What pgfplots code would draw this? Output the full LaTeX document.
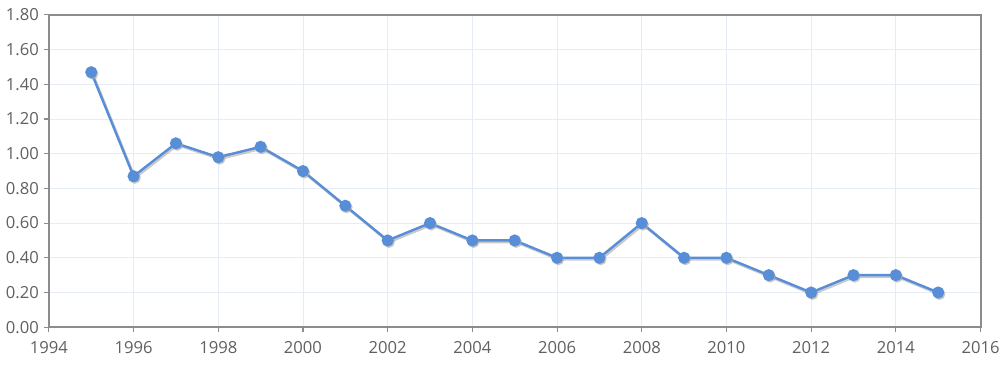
\documentclass[border=0pt]{standalone}
\usepackage{pgfplots}
\pgfplotsset{compat=1.18}
\usepackage{fontspec}
\setmainfont{Open Sans}
\definecolor{lineblue}{RGB}{88,141,215}
\definecolor{gridc}{RGB}{230,236,245}
\definecolor{framec}{RGB}{140,140,140}
\definecolor{labc}{RGB}{96,96,96}
\pgfplotstableread{
x y
1995 1.47
1996 0.87
1997 1.06
1998 0.98
1999 1.04
2000 0.90
2001 0.70
2002 0.50
2003 0.60
2004 0.50
2005 0.50
2006 0.40
2007 0.40
2008 0.60
2009 0.40
2010 0.40
2011 0.30
2012 0.20
2013 0.30
2014 0.30
2015 0.20
}\datatable
\begin{document}
\begin{tikzpicture}
\begin{axis}[
  name=ax,
  scale only axis,
  width=700.5pt, height=234.75pt,
  xmin=1994, xmax=2016, ymin=0, ymax=1.8,
  xtick={1994,1996,...,2016},
  ytick={0,0.2,...,1.81},
  xticklabel style={/pgf/number format/1000 sep={}, yshift=-3pt},
  yticklabel style={/pgf/number format/.cd, fixed, fixed zerofill, precision=2},
  /pgf/number format/assume math mode=true,
  ticklabel style={font=\fontsize{12.5}{14}\selectfont, text=labc},
  grid=major,
  major grid style={gridc, line width=0.6pt},
  axis line style={framec, line width=1.5pt},
  tick style={framec, line width=0.8pt},
  tick align=outside,
  major tick length=4pt,
  xtick pos=bottom, ytick pos=left,
  clip=false,
]
\addplot[black!35, opacity=0.6, line width=2pt, shift={(1pt,-1.2pt)}, mark=*, mark size=3.4pt, mark options={draw=none, fill=black!35}] table[x=x,y=y]{\datatable};
\addplot[lineblue, line width=1.8pt, mark=*, mark size=3.6pt, mark options={fill=lineblue, draw=none}] table[x=x,y=y]{\datatable};
\end{axis}
\useasboundingbox (ax.south west) ++(-36.75pt,-27.75pt) rectangle ([shift={(15.75pt,11.25pt)}]ax.north east);
\end{tikzpicture}
\end{document}
